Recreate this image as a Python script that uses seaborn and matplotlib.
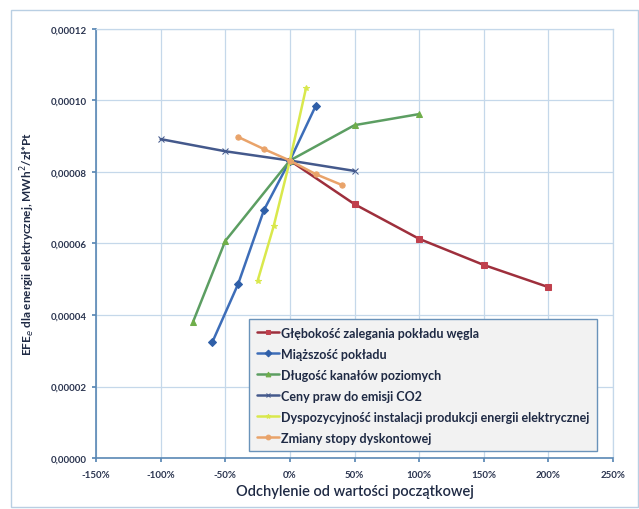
import matplotlib
matplotlib.use("Agg")
import matplotlib.pyplot as plt
import seaborn as sns
import pandas as pd
from matplotlib.ticker import FuncFormatter, MultipleLocator

# ---- data ----
names = [
    "Głębokość zalegania pokładu węgla",
    "Miąższość pokładu",
    "Długość kanałów poziomych",
    "Ceny praw do emisji CO2",
    "Dyspozycyjność instalacji produkcji energii elektrycznej",
    "Zmiany stopy dyskontowej",
]
x_depth = [0, 50, 100, 150, 200]
y_depth = [0.0000832, 0.0000710, 0.0000613, 0.0000540, 0.0000478]

x_thick = [-60, -40, -20, 0, 20]
y_thick = [0.0000324, 0.0000487, 0.0000694, 0.0000832, 0.0000985]

x_chan = [-75, -50, 0, 50, 100]
y_chan = [0.0000380, 0.0000607, 0.0000832, 0.0000931, 0.0000962]

x_co2 = [-100, -50, 0, 50]
y_co2 = [0.0000892, 0.0000858, 0.0000832, 0.0000803]

x_avail = [-25, -12.5, 0, 12.5]
y_avail = [0.0000495, 0.0000649, 0.0000832, 0.0001035]

x_disc = [-40, -20, 0, 20, 40]
y_disc = [0.0000898, 0.0000864, 0.0000832, 0.0000794, 0.0000764]

xs = [x_depth, x_thick, x_chan, x_co2, x_avail, x_disc]
ys = [y_depth, y_thick, y_chan, y_co2, y_avail, y_disc]

rows = []
for n, xv, yv in zip(names, xs, ys):
    for i, (a, b) in enumerate(zip(xv, yv)):
        rows.append({"seria": n, "x": a, "y": b, "i": i})
df = pd.DataFrame(rows)

colors = ["#9E2F3C", "#3D6DB8", "#5C9E62", "#44598C", "#D9E84C", "#E9A36A"]
mcolors = ["#C0404D", "#2F5FA8", "#6FAE4A", "#44598C", "#D9E84C", "#E9A36A"]
markers = ["s", "D", "^", "x", "*", "o"]

sns.set_theme(style="white")
plt.rcParams["font.family"] = ["Lato", "DejaVu Sans"]

fig = plt.figure(figsize=(6.39, 5.10), dpi=100)
ax = fig.add_axes([96 / 639, 1 - 459 / 510, (613 - 96) / 639, (459 - 30) / 510])

for n, c, mc, m in zip(names, colors, mcolors, markers):
    sub = df[df["seria"] == n]
    sns.lineplot(data=sub, x="x", y="y", ax=ax, sort=False, estimator=None,
                 color=c, linewidth=1.8, marker=m, markersize=3.8,
                 markerfacecolor=mc, markeredgecolor=mc, label=n)

ax.set_xlim(-150, 250)
ax.set_ylim(0, 0.00012)
ax.xaxis.set_major_locator(MultipleLocator(50))
ax.yaxis.set_major_locator(MultipleLocator(0.00002))
ax.xaxis.set_major_formatter(FuncFormatter(lambda v, p: f"{v:.0f}%"))
ax.yaxis.set_major_formatter(FuncFormatter(lambda v, p: f"{v:.5f}".replace(".", ",")))

ax.grid(True, color="#C5D8EA", linewidth=0.9)
ax.set_axisbelow(True)
for s in ["top", "right"]:
    ax.spines[s].set_color("#C5D8EA")
    ax.spines[s].set_linewidth(0.9)
for s in ["left", "bottom"]:
    ax.spines[s].set_color("#5A88B5")
    ax.spines[s].set_linewidth(1.2)
ax.tick_params(axis="both", which="major", length=3, color="#5A88B5",
               labelsize=7, labelcolor="#2B3550", direction="out")
ax.tick_params(axis="x", pad=6)
ax.tick_params(left=True, bottom=True)
for lab in ax.get_xticklabels() + ax.get_yticklabels():
    lab.set_fontweight("bold")

ax.set_xlabel("Odchylenie od wartości początkowej", fontsize=10.5,
              color="#1F2A44", labelpad=3, fontweight="semibold")
ax.set_ylabel("EFE$_e$ dla energii elektrycznej, MWh$^2$/zł*Pt", fontsize=8.5,
              color="#1F2A44", fontweight="bold", labelpad=10)

leg = ax.legend(loc="lower right", bbox_to_anchor=(0.969, 0.016), fontsize=9,
                frameon=True, fancybox=False, handlelength=1.8, handletextpad=0.15,
                labelspacing=0.72, borderpad=0.6, borderaxespad=0.0, markerscale=0.9)
leg.get_frame().set_facecolor("#F2F2F2")
leg.get_frame().set_edgecolor("#6A93BA")
leg.get_frame().set_linewidth(1.0)
leg.get_frame().set_alpha(1)
for t in leg.get_texts():
    t.set_color("#1F2A44")
    t.set_fontweight("bold")

# outer chart border
fig.patches.append(plt.Rectangle((11 / 639, 2 / 510), 627 / 639, 497 / 510,
                                 transform=fig.transFigure, fill=False,
                                 edgecolor="#B9CFE3", linewidth=1.0))

fig.savefig("out.png", dpi=100)
